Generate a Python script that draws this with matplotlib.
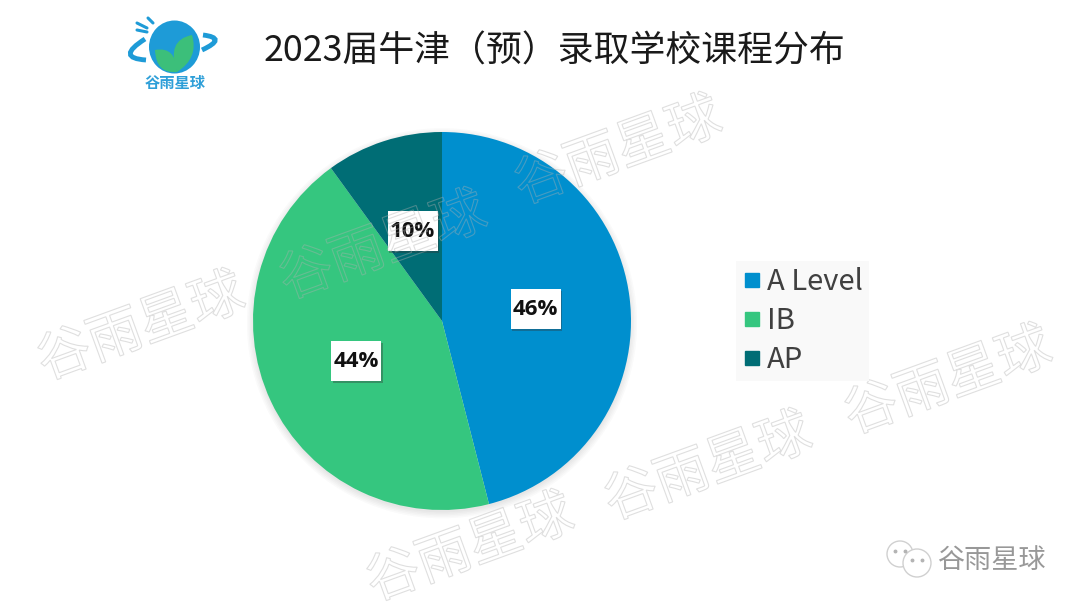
import matplotlib
matplotlib.use('Agg')
import matplotlib.pyplot as plt
import matplotlib.patheffects as pe
from matplotlib.lines import Line2D
from matplotlib.patches import Circle, Ellipse, PathPatch, Rectangle
from matplotlib.path import Path

plt.rcParams['font.family'] = ['Noto Sans CJK SC', 'DejaVu Sans']

W, H = 1080, 608
categories = ['A Level', 'IB', 'AP']
shares = [46, 44, 10]
colors = ['#008FCE', '#35C67F', '#006D75']
title = '2023届牛津（预）录取学校课程分布'
brand = '谷雨星球'

# watermark centres, in pixels of the picture
mark_x = [141, 618, 708, 948, 470, 383]
mark_y = [328, 152, 468, 382, 549, 247]

fig = plt.figure(figsize=(W / 100, H / 100), dpi=100, facecolor='white')

# pie axes: 378 px wide, centred on (442, 321)
R = 189
ax = fig.add_axes([(442 - R) / W, 1 - (321 + R) / H, 2 * R / W, 2 * R / H], zorder=1)
# soft shadow, a bit heavier under the pie
for k in range(5):
    ax.add_patch(Circle((0, -0.012), 1.0 + 0.008 * k, fc='#777777', ec='none', alpha=0.035,
                        zorder=0, clip_on=False))
wedges, _, pct = ax.pie(
    shares, colors=colors, startangle=90, counterclock=False, radius=1,
    autopct='%d%%', pctdistance=0.5,
    wedgeprops={'linewidth': 0, 'zorder': 1},
    textprops={'fontsize': 16, 'fontweight': 'bold', 'color': '#111111',
               'family': ['Open Sans', 'DejaVu Sans'], 'zorder': 4},
)
ax.set_xlim(-1, 1)
ax.set_ylim(-1, 1)
ax.set_aspect('equal')
ax.axis('off')
for t in pct:
    x, y = t.get_position()
    t.set_ha('center')
    t.set_va('center')
    box = Rectangle((x - 25 / R, y - 20 / R), 50 / R, 40 / R, fc='white', ec='none', zorder=3)
    box.set_path_effects([pe.SimplePatchShadow(offset=(1.2, -1.2), shadow_rgbFace='#333333', alpha=0.35),
                          pe.Normal()])
    ax.add_patch(box)

handles = [Line2D([], [], linestyle='none', marker='s', markersize=10.5, color=c) for c in colors]
leg = fig.legend(
    handles, categories, loc='center left', bbox_to_anchor=(736 / W, 1 - 321 / H),
    frameon=True, facecolor='#f9f9f9', edgecolor='none', fancybox=False, framealpha=1,
    fontsize=21, labelcolor='#404040', labelspacing=0.31, handlelength=0.7, handletextpad=0.16,
    borderpad=0.2, borderaxespad=0,
)

# overlay in pixel coordinates for title, logo and watermarks
top = fig.add_axes([0, 0, 1, 1], zorder=2)
top.set_xlim(0, W)
top.set_ylim(H, 0)
top.axis('off')
top.patch.set_alpha(0)

top.text(554, 52, title, fontsize=25.8, fontweight='light', color='#1a1a1a', ha='center', va='center')

# hollow watermark: outline only, so it stays faint over the pie
for mx, my in zip(mark_x, mark_y):
    top.text(mx, my, brand, fontsize=39, rotation=20, ha='center', va='center',
             rotation_mode='anchor',
             path_effects=[pe.PathPatchEffect(facecolor='none', edgecolor='#b0b0b0',
                                              linewidth=0.8, alpha=0.4)])

# logo
logo_blue = '#1E9BD7'
logo_green = '#3CBF7A'
top.add_patch(Ellipse((174.5, 47), 51, 53, fc=logo_blue, ec='none'))
for pts in [[(137, 23), (147, 28)], [(137, 30), (147, 32)], [(148, 18), (153, 23)]]:
    top.plot(*zip(*pts), color=logo_blue, lw=2.2, solid_capstyle='round')
arc = [Path.MOVETO, Path.CURVE3, Path.CURVE3]
top.add_patch(PathPatch(Path([(145, 39), (115, 58), (146, 60)], arc), fc='none', ec=logo_blue, lw=3.5))
top.add_patch(PathPatch(Path([(203, 35), (228, 38), (202, 50)], arc), fc='none', ec=logo_blue, lw=3.5))
leaf = [Path.MOVETO, Path.CURVE3, Path.CURVE3, Path.CURVE3, Path.CURVE3]
top.add_patch(PathPatch(Path([(177, 72), (166, 40), (192, 35), (199, 58), (177, 72)], leaf),
                        fc=logo_green, ec='none'))
top.add_patch(PathPatch(Path([(177, 72), (156, 74), (155, 50), (176, 46), (177, 72)], leaf),
                        fc=logo_green, ec='none'))
top.text(175, 83, brand, fontsize=11, fontweight='bold', color='#2E9FD8', ha='center', va='center')

# footer
for cx, cy, r in [(900, 554, 13), (917, 563, 14)]:
    top.add_patch(Circle((cx, cy), r, fc='white', ec='#d0d0d0', lw=1))
    top.plot([cx - r * 0.35, cx + r * 0.35], [cy - 3, cy - 3], linestyle='none',
             marker='o', markersize=1.8, color='#b4b4b4')
top.text(992, 560, brand, fontsize=19.5, color='#989898', ha='center', va='center')

fig.savefig('out.png', dpi=100)
